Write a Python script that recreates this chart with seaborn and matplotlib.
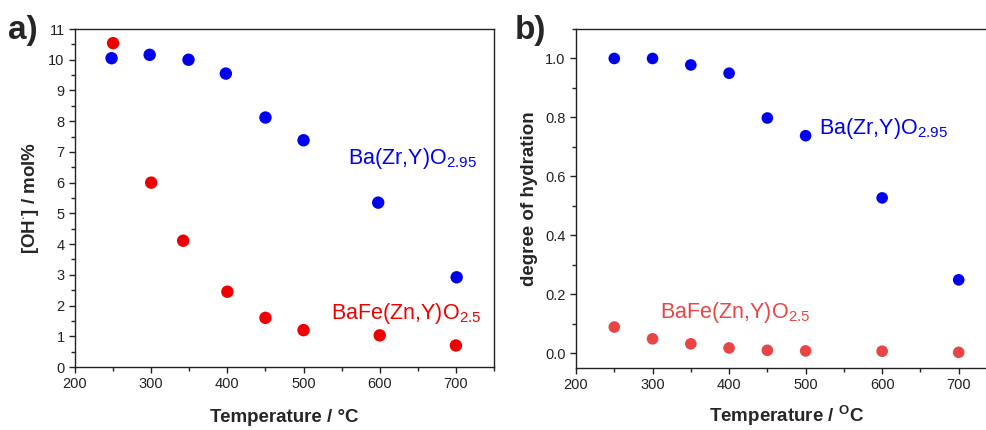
import matplotlib
matplotlib.use("Agg")
import matplotlib.pyplot as plt
import seaborn as sns
import pandas as pd
from matplotlib.ticker import MultipleLocator

# ---- data ----
temp_bzy_a = [248, 298, 349, 398, 450, 500, 598, 701]
oh_bzy = [10.05, 10.16, 10.0, 9.55, 8.12, 7.38, 5.35, 2.92]
temp_bfzy_a = [250, 300, 342, 400, 450, 500, 600, 700]
oh_bfzy = [10.54, 6.0, 4.11, 2.45, 1.6, 1.2, 1.03, 0.70]

temp_b = [250, 300, 350, 400, 450, 500, 600, 700]
hyd_bzy = [1.0, 1.0, 0.978, 0.95, 0.798, 0.738, 0.527, 0.249]
hyd_bfzy = [0.089, 0.049, 0.032, 0.018, 0.010, 0.008, 0.007, 0.003]

x_ticks = [200, 300, 400, 500, 600, 700]

sns.set_theme(style="ticks")
plt.rcParams['font.family'] = ['Liberation Sans', 'DejaVu Sans']
plt.rcParams['mathtext.fontset'] = 'custom'
plt.rcParams['mathtext.rm'] = 'Liberation Sans'
plt.rcParams['mathtext.it'] = 'Liberation Sans:italic'
plt.rcParams['mathtext.bf'] = 'Liberation Sans:bold'

fig = plt.figure(figsize=(9.87, 4.30), dpi=100)
ax1 = fig.add_axes([0.076, 0.1465, 0.4245, 0.786])
ax2 = fig.add_axes([0.5836, 0.1442, 0.4265, 0.7884])

blue = '#0000f0'
red_a = '#ee0000'
red_b = '#e84545'

dfa1 = pd.DataFrame({'T': temp_bzy_a, 'v': oh_bzy})
dfa2 = pd.DataFrame({'T': temp_bfzy_a, 'v': oh_bfzy})
sns.scatterplot(data=dfa1, x='T', y='v', ax=ax1, color=blue, s=80, edgecolor='none')
sns.scatterplot(data=dfa2, x='T', y='v', ax=ax1, color=red_a, s=80, edgecolor='none')

dfb1 = pd.DataFrame({'T': temp_b, 'v': hyd_bzy})
dfb2 = pd.DataFrame({'T': temp_b, 'v': hyd_bfzy})
sns.scatterplot(data=dfb1, x='T', y='v', ax=ax2, color=blue, s=70, edgecolor='none')
sns.scatterplot(data=dfb2, x='T', y='v', ax=ax2, color=red_b, s=70, edgecolor='none')

for ax in (ax1, ax2):
    ax.set_xlim(200, 750)
    ax.set_xticks(x_ticks)
    ax.xaxis.set_minor_locator(MultipleLocator(50))
    ax.tick_params(which='both', direction='out', top=False, right=False,
                   labelsize=10.5, colors='#222222', width=1)
    ax.tick_params(which='major', length=4)
    ax.tick_params(which='minor', length=3)
    for sp in ax.spines.values():
        sp.set_visible(True)
        sp.set_color('#222222')
        sp.set_linewidth(1.0)

ax1.set_ylim(0, 11)
ax1.set_yticks(range(0, 12))
ax1.yaxis.set_minor_locator(MultipleLocator(0.5))
ax2.set_ylim(-0.05, 1.1)
ax2.set_yticks([0.0, 0.2, 0.4, 0.6, 0.8, 1.0])
ax2.set_yticklabels(['0.0', '0.2', '0.4', '0.6', '0.8', '1.0'])
ax2.yaxis.set_minor_locator(MultipleLocator(0.1))

ax1.set_xlabel('Temperature / °C', fontsize=13.5, fontweight='bold', labelpad=13)
ax1.set_ylabel(r'[OH$^{\cdot}$] / mol%', fontsize=13.5, fontweight='bold', labelpad=5)
ax2.set_xlabel(r'Temperature / $^{\mathbf{O}}$C', fontsize=13.5, fontweight='bold', labelpad=8)
ax2.set_ylabel('degree of hydration', fontsize=13.5, fontweight='bold', labelpad=5)

ax1.text(559, 6.6, r'Ba(Zr,Y)O$_{2.95}$', color=blue, fontsize=15.5)
ax1.text(536, 1.55, r'BaFe(Zn,Y)O$_{2.5}$', color=red_a, fontsize=15.5)
ax2.text(518, 0.745, r'Ba(Zr,Y)O$_{2.95}$', color=blue, fontsize=15.5)
ax2.text(310, 0.118, r'BaFe(Zn,Y)O$_{2.5}$', color=red_b, fontsize=15.5)

fig.text(0.008, 0.93, 'a)', fontsize=24, fontweight='bold', va='center')
fig.text(0.522, 0.93, 'b)', fontsize=24, fontweight='bold', va='center')

fig.savefig('out.png', dpi=100)
